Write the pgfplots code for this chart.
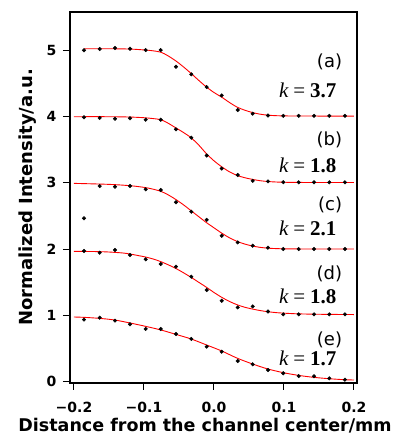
\documentclass[border=0pt]{standalone}
\usepackage{fontspec}
\setmainfont{DejaVu Sans}
\newfontfamily\tnr{Liberation Serif}
\usepackage{pgfplots}
\pgfplotsset{compat=1.18}
\newcommand{\kl}[1]{{\tnr\fontsize{21}{21}\selectfont\itshape k\upshape\hspace{5pt}=\hspace{5pt}\bfseries #1}}
\begin{document}
\begin{tikzpicture}
\begin{axis}[
 at={(0,0)}, anchor=south west,
 width=287pt, height=371pt, scale only axis,
 xmin=-0.2057, xmax=0.2043, ymin=-0.02, ymax=5.574,
 axis line style={line width=1.3pt},
 tick align=outside, major tick length=7pt,
 tick style={line width=1pt, black},
 xtick={-0.2,-0.1,0,0.1,0.2}, xticklabels={−0.2,−0.1,0.0,0.1,0.2},
 ytick={0,1,2,3,4,5}, yticklabels={0,1,2,3,4,5},
 xtick pos=lower, ytick pos=left,
 tick label style={font=\bfseries\fontsize{14}{14}\selectfont},
 xticklabel style={yshift=-9pt},
 yticklabel style={xshift=-3pt},
 xlabel={Distance from the channel center/mm},
 ylabel={Normalized Intensity/a.u.},
 every axis x label/.style={at={(axis description cs:0.4704,0)}, anchor=base, yshift=-48pt, font=\bfseries\fontsize{17.5}{17.5}\selectfont},
 every axis y label/.style={at={(axis description cs:0,0.5)}, anchor=center, xshift=-42pt, rotate=90, font=\bfseries\fontsize{18}{18}\selectfont},
 clip=false,
]
% fitted curves
\addplot[red, line width=0.9pt, smooth] coordinates {
(-0.186,5.02) (-0.15,5.02) (-0.12,5.015) (-0.1,5.002) (-0.088,4.99) (-0.076,4.968) (-0.066,4.915) (-0.055,4.84) (-0.044,4.75) (-0.033,4.65) (-0.022,4.545) (-0.011,4.445) (0.0,4.36) (0.011,4.29) (0.022,4.21) (0.033,4.14) (0.044,4.093) (0.055,4.058) (0.066,4.033) (0.077,4.018) (0.09,4.01) (0.11,4.006) (0.15,4.005) (0.2,4.005)};
\addplot[red, line width=0.9pt, smooth] coordinates {
(-0.2,3.995) (-0.15,3.995) (-0.12,3.99) (-0.1,3.98) (-0.088,3.968) (-0.076,3.95) (-0.066,3.9) (-0.055,3.83) (-0.044,3.76) (-0.033,3.68) (-0.022,3.57) (-0.011,3.44) (0.0,3.33) (0.011,3.24) (0.022,3.165) (0.033,3.11) (0.044,3.075) (0.055,3.05) (0.066,3.03) (0.077,3.018) (0.09,3.01) (0.11,3.005) (0.15,3.003) (0.2,3.003)};
\addplot[red, line width=0.9pt, smooth] coordinates {
(-0.2,2.99) (-0.15,2.975) (-0.12,2.955) (-0.1,2.93) (-0.088,2.905) (-0.076,2.87) (-0.066,2.82) (-0.055,2.75) (-0.044,2.67) (-0.033,2.58) (-0.022,2.49) (-0.011,2.40) (0.0,2.32) (0.011,2.24) (0.022,2.17) (0.033,2.115) (0.044,2.075) (0.055,2.045) (0.066,2.025) (0.077,2.013) (0.09,2.006) (0.11,2.002) (0.15,2.0) (0.2,2.0)};
\addplot[red, line width=0.9pt, smooth] coordinates {
(-0.2,1.965) (-0.17,1.962) (-0.15,1.955) (-0.13,1.94) (-0.12,1.925) (-0.11,1.905) (-0.098,1.88) (-0.087,1.85) (-0.076,1.81) (-0.066,1.765) (-0.055,1.71) (-0.044,1.645) (-0.033,1.575) (-0.022,1.5) (-0.011,1.425) (0.0,1.345) (0.011,1.272) (0.022,1.21) (0.033,1.16) (0.044,1.122) (0.055,1.095) (0.066,1.072) (0.077,1.055) (0.09,1.04) (0.11,1.027) (0.13,1.02) (0.16,1.015) (0.2,1.012)};
\addplot[red, line width=0.9pt, smooth] coordinates {
(-0.2,0.975) (-0.186,0.97) (-0.164,0.955) (-0.142,0.93) (-0.12,0.885) (-0.098,0.835) (-0.076,0.78) (-0.055,0.715) (-0.033,0.645) (-0.011,0.555) (0.011,0.463) (0.033,0.355) (0.055,0.267) (0.077,0.191) (0.099,0.136) (0.12,0.096) (0.142,0.066) (0.164,0.045) (0.186,0.03) (0.2,0.025)};
% data points
\addplot[only marks, mark=*, mark size=1.8pt, black] coordinates {
(-0.1857,4.996) (-0.1633,5.016) (-0.1414,5.031) (-0.12,5.02) (-0.0976,5.0) (-0.0761,5.0) (-0.0543,4.749) (-0.0324,4.634) (-0.0104,4.442) (0.011,4.316) (0.0339,4.096) (0.0553,4.041) (0.0771,4.013) (0.099,4.008) (0.121,4.008) (0.1429,4.008) (0.1647,4.008) (0.1871,4.008)};
\addplot[only marks, mark=*, mark size=1.8pt, black] coordinates {
(-0.1857,3.986) (-0.1633,3.976) (-0.1414,3.965) (-0.12,3.971) (-0.0976,3.95) (-0.0761,3.95) (-0.0543,3.805) (-0.0324,3.679) (-0.0104,3.41) (0.011,3.213) (0.0339,3.116) (0.0553,3.028) (0.0771,3.02) (0.099,3.008) (0.121,3.006) (0.1429,3.006) (0.1647,3.006) (0.1871,3.006)};
\addplot[only marks, mark=*, mark size=1.8pt, black] coordinates {
(-0.1857,2.463) (-0.1633,2.95) (-0.1414,2.94) (-0.12,2.95) (-0.0976,2.9) (-0.0761,2.89) (-0.0543,2.705) (-0.0324,2.563) (-0.0104,2.44) (0.011,2.2) (0.0339,2.1) (0.0553,2.05) (0.0771,2.02) (0.099,2.0) (0.121,2.0) (0.1429,2.0) (0.1647,2.0) (0.1871,2.0)};
\addplot[only marks, mark=*, mark size=1.8pt, black] coordinates {
(-0.1857,1.97) (-0.1633,1.945) (-0.1414,1.985) (-0.12,1.91) (-0.0976,1.845) (-0.0761,1.775) (-0.0543,1.734) (-0.0324,1.583) (-0.0104,1.382) (0.011,1.22) (0.0339,1.12) (0.0553,1.135) (0.0771,1.058) (0.099,1.015) (0.121,1.015) (0.1429,1.015) (0.1647,1.015) (0.1871,1.015)};
\addplot[only marks, mark=*, mark size=1.8pt, black] coordinates {
(-0.1857,0.935) (-0.1633,0.965) (-0.1414,0.92) (-0.12,0.865) (-0.0976,0.795) (-0.0761,0.795) (-0.0543,0.719) (-0.0324,0.644) (-0.0104,0.528) (0.011,0.452) (0.0339,0.312) (0.0553,0.262) (0.0771,0.176) (0.099,0.127) (0.121,0.085) (0.1429,0.081) (0.1647,0.05) (0.1871,0.03)};
% labels
\node[anchor=base east, font=\fontsize{18}{18}\selectfont] at (axis cs:0.188,4.73) {(a)};
\node[anchor=base east] at (axis cs:0.18,4.29) {\kl{3.7}};
\node[anchor=base east, font=\fontsize{18}{18}\selectfont] at (axis cs:0.188,3.555) {(b)};
\node[anchor=base east] at (axis cs:0.18,3.147) {\kl{1.8}};
\node[anchor=base east, font=\fontsize{18}{18}\selectfont] at (axis cs:0.188,2.576) {(c)};
\node[anchor=base east] at (axis cs:0.18,2.197) {\kl{2.1}};
\node[anchor=base east, font=\fontsize{18}{18}\selectfont] at (axis cs:0.188,1.536) {(d)};
\node[anchor=base east] at (axis cs:0.18,1.186) {\kl{1.8}};
\node[anchor=base east, font=\fontsize{18}{18}\selectfont] at (axis cs:0.188,0.539) {(e)};
\node[anchor=base east] at (axis cs:0.18,0.237) {\kl{1.7}};
\end{axis}
\pgfresetboundingbox
\path[use as bounding box] (-70pt,-52pt) rectangle (325pt,383pt);
\end{tikzpicture}
\end{document}
